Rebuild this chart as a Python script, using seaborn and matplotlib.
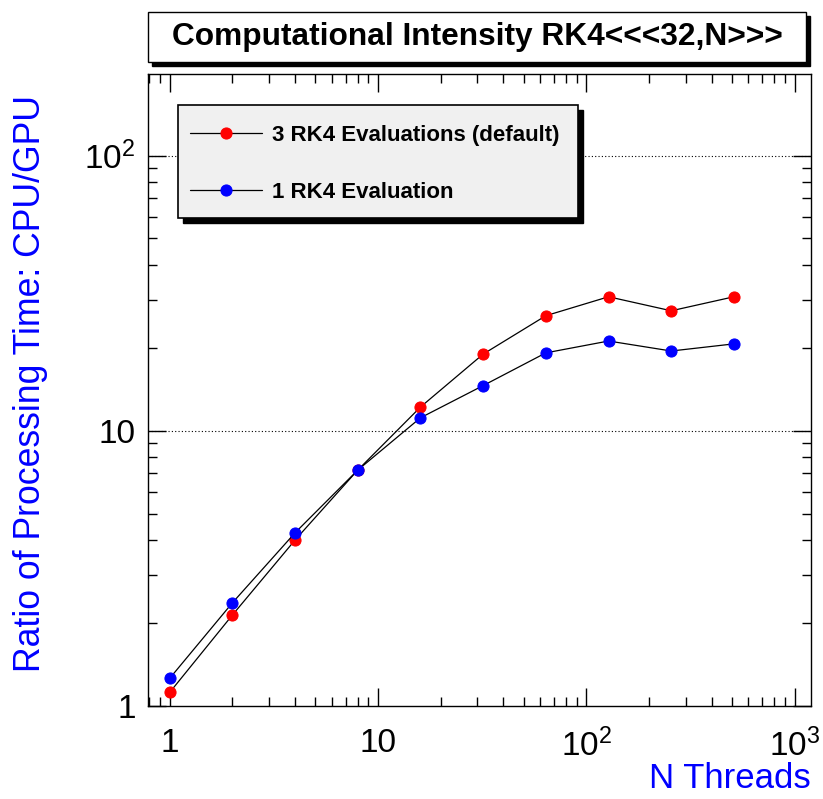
import numpy as np
import pandas as pd
import matplotlib
matplotlib.use("Agg")
import matplotlib.pyplot as plt
from matplotlib.patches import Rectangle
from matplotlib.ticker import FixedLocator, FixedFormatter, LogLocator, NullFormatter
import seaborn as sns

# ---- data ----
n_threads = [1, 2, 4, 8, 16, 32, 64, 128, 256, 512]
ratio_3eval = [1.12, 2.14, 4.01, 7.2, 12.2, 19.0, 26.2, 30.7, 27.3, 30.7]
ratio_1eval = [1.26, 2.37, 4.26, 7.2, 11.15, 14.6, 19.2, 21.2, 19.5, 20.7]
series_names = ["3 RK4 Evaluations (default)", "1 RK4 Evaluation"]
series_colors = ["#ff0000", "#0000ff"]
x_ticks = [1, 10, 100, 1000]
x_ticklabels = ["1", "10", r"$\mathregular{10^{2}}$", r"$\mathregular{10^{3}}$"]
y_ticks = [1, 10, 100]
y_ticklabels = ["1", "10", r"$\mathregular{10^{2}}$"]
title = "Computational Intensity RK4<<<32,N>>>"
xlabel = "N Threads"
ylabel = "Ratio of Processing Time: CPU/GPU"

sns.set_theme(style="white")
plt.rcParams["font.family"] = ["Liberation Sans", "DejaVu Sans"]
plt.rcParams["mathtext.fontset"] = "custom"
plt.rcParams["mathtext.rm"] = "Liberation Sans"
plt.rcParams["text.color"] = "black"
plt.rcParams["xtick.color"] = "black"
plt.rcParams["ytick.color"] = "black"
plt.rcParams["xtick.labelcolor"] = "black"
plt.rcParams["ytick.labelcolor"] = "black"

W, H = 823, 799
fig = plt.figure(figsize=(W / 100, H / 100), dpi=100)
fig.patch.set_facecolor("white")

def fx(px):
    return px / W

def fy(py):
    return 1 - py / H

ax_l, ax_r, ax_t, ax_b = 148, 811, 74, 706
ax = fig.add_axes([fx(ax_l), fy(ax_b), fx(ax_r) - fx(ax_l), fy(ax_t) - fy(ax_b)])
ax.set_facecolor("white")

df = pd.DataFrame({
    "n": n_threads * 2,
    "ratio": ratio_3eval + ratio_1eval,
    "series": [series_names[0]] * len(n_threads) + [series_names[1]] * len(n_threads),
})

for name, col in zip(series_names, series_colors):
    sub = df[df["series"] == name]
    sns.lineplot(data=sub, x="n", y="ratio", ax=ax, color="black", lw=0.9,
                 marker="o", markersize=8, markerfacecolor=col, markeredgecolor=col,
                 label=name, legend=False, zorder=3)

ax.set_xscale("log")
ax.set_yscale("log")
ax.set_xlim(0.787, 1200)
ax.set_ylim(1, 198)

ax.xaxis.set_major_locator(FixedLocator(x_ticks))
ax.xaxis.set_major_formatter(FixedFormatter(x_ticklabels))
ax.yaxis.set_major_locator(FixedLocator(y_ticks))
ax.yaxis.set_major_formatter(FixedFormatter(y_ticklabels))
ax.xaxis.set_minor_locator(LogLocator(base=10, subs=np.arange(2, 10), numticks=20))
ax.yaxis.set_minor_locator(LogLocator(base=10, subs=np.arange(2, 10), numticks=20))
ax.xaxis.set_minor_formatter(NullFormatter())
ax.yaxis.set_minor_formatter(NullFormatter())

ax.tick_params(which="both", direction="in", top=True, right=True, bottom=True, left=True,
               color="black", width=1)
ax.tick_params(which="major", length=13, labelsize=24, labelcolor="black")
ax.tick_params(which="minor", length=6.5)
ax.tick_params(axis="x", which="major", pad=16)
ax.tick_params(axis="y", which="major", pad=9)

ax.grid(False)
for yv in y_ticks[1:]:
    ax.axhline(yv, color="black", lw=0.8, ls=(0, (1, 2)), zorder=1)

for s in ax.spines.values():
    s.set_color("black")
    s.set_linewidth(1)

ax.set_xlabel(xlabel, fontsize=25, color="#0000ff", ha="right", va="center")
ax.xaxis.set_label_coords(1.0, (ax_b - 779) / (ax_b - ax_t))
ax.set_ylabel(ylabel, fontsize=25.7, color="#0000ff", ha="center", va="center")
ax.yaxis.set_label_coords((31 - ax_l) / (ax_r - ax_l), (ax_b - 383) / (ax_b - ax_t))

# legend box (ROOT style, with shadow)
lg_l, lg_r, lg_t, lg_b = 178, 578, 105, 218
sh = 5
ax.add_patch(Rectangle((fx(lg_l + sh), fy(lg_b + sh)), fx(lg_r) - fx(lg_l), fy(lg_t) - fy(lg_b),
                       transform=fig.transFigure, facecolor="black", edgecolor="black",
                       clip_on=False, zorder=4))
ax.add_patch(Rectangle((fx(lg_l), fy(lg_b)), fx(lg_r) - fx(lg_l), fy(lg_t) - fy(lg_b),
                       transform=fig.transFigure, facecolor="#f0f0f0", edgecolor="black", lw=1.2,
                       clip_on=False, zorder=4.5))
leg = ax.legend(loc="upper left", bbox_to_anchor=(fx(190), fy(125)), bbox_transform=fig.transFigure,
                prop={"weight": "bold", "size": 16}, frameon=False, borderpad=0, labelspacing=1.62,
                handlelength=3.25, handletextpad=0.45, borderaxespad=0)
for t in leg.get_texts():
    t.set_color("black")
leg.set_zorder(5)

# title box with shadow
tb_l, tb_r, tb_t, tb_b = 148, 806, 12, 62
fig.patches.append(Rectangle((fx(tb_l + 4), fy(tb_b + 4)), fx(tb_r) - fx(tb_l), fy(tb_t) - fy(tb_b),
                             transform=fig.transFigure, facecolor="black", edgecolor="black", zorder=1))
fig.patches.append(Rectangle((fx(tb_l), fy(tb_b)), fx(tb_r) - fx(tb_l), fy(tb_t) - fy(tb_b),
                             transform=fig.transFigure, facecolor="white", edgecolor="black", lw=1, zorder=2))
fig.text(fx((tb_l + tb_r) / 2), fy((tb_t + tb_b) / 2), title, ha="center", va="center",
         fontsize=22.8, fontweight="bold", color="black", zorder=3)

fig.savefig("out.png", dpi=100)
